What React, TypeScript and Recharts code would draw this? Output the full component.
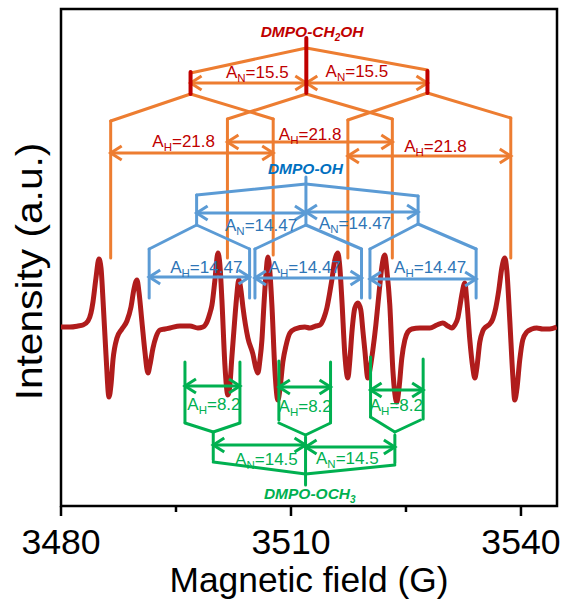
import React from "react";
import { LineChart, Line, XAxis, YAxis, ReferenceLine, ReferenceDot, ReferenceArea } from "recharts";

// spectrum: field in G, intensity in a.u.
const field = [
  3480.0, 3481.17, 3482.22, 3482.87, 3483.52, 3483.91, 3484.17, 3484.56, 3484.95, 3485.22, 3485.48, 3485.87,
  3486.26, 3486.52, 3486.78, 3487.3, 3487.95, 3488.6, 3489.13, 3489.52, 3489.91, 3490.17, 3490.56, 3490.95,
  3491.34, 3491.6, 3492.0, 3492.39, 3492.91, 3493.56, 3494.21, 3495.52, 3496.82,
  3497.86, 3498.51, 3499.04, 3499.43, 3499.69, 3500.08, 3500.47, 3500.73, 3500.99, 3501.38, 3501.77, 3502.03,
  3502.29, 3502.56, 3502.82, 3503.21, 3503.47, 3503.73, 3504.38, 3505.03, 3505.42, 3505.68, 3505.95, 3506.21,
  3506.47, 3506.73, 3506.99, 3507.25, 3507.51, 3507.9, 3508.29, 3508.55, 3508.94, 3509.34, 3509.86, 3510.51,
  3511.81, 3512.46,
  3513.25, 3513.77, 3514.29, 3514.68, 3515.07, 3515.33, 3515.72, 3516.11, 3516.38, 3516.64, 3517.03, 3517.42,
  3517.68, 3517.94, 3518.33, 3518.72, 3519.11, 3519.37, 3519.63, 3520.03, 3520.29, 3520.68, 3521.07, 3521.33,
  3521.59, 3521.85, 3522.24, 3522.5, 3522.89, 3523.29, 3523.81, 3524.07, 3524.46, 3524.85, 3525.24, 3525.76,
  3526.81, 3528.11,
  3529.02, 3529.8, 3530.46, 3530.98, 3531.37, 3531.76, 3532.02, 3532.28, 3532.67, 3532.93, 3533.33, 3533.72,
  3533.98, 3534.24, 3534.63, 3535.02, 3535.41, 3535.93, 3536.32, 3536.71, 3537.11, 3537.5, 3537.89, 3538.15,
  3538.54, 3538.93, 3539.19, 3539.45, 3539.84, 3540.23, 3540.76, 3541.41, 3542.06, 3542.84, 3543.75, 3544.67,
];
const intensity = [
  0, 0, 1, 2, 6, 14, 25, 49, 68, 59, 27, -28,
  -70, -58, -33, -11, -2, 6, 20, 38, 47, 35, 5, -25,
  -46, -38, -21, -10, -3, -2, -1, 1, 1,
  -1, 0, 5, 14, 22, 47, 74, 62, 27, -38, -68, -58,
  -30, -3, 22, 47, 37, 20, -11, -27, -41, -46, -33, -13,
  22, 52, 70, 55, 22, -43, -73, -63, -35, -19, -6, -2,
  0, -1,
  1, 2, 9, 19, 35, 47, 67, 74, 59, 27, -28, -51,
  -33, -6, 19, 24, 17, -3, -23, -51, -43, -23, 2, 22,
  42, 60, 72, 57, 22, -43, -75, -63, -31, -13, -5, -2,
  -1, -1,
  2, 4, 1, -1, 2, 9, 20, 32, 44, 27, -13, -41,
  -51, -41, -15, -4, 0, 3, 8, 19, 37, 59, 69, 57,
  7, -48, -73, -63, -33, -13, -5, -2, -1, -2, -2, 0,
];
const spectrum = field.map((b, i) => ({ b, v: intensity[i] }));

const fieldDomain = [3480, 3544.7];
const intensityDomain = [-179, 318];
const majorTicks = [3480, 3510, 3540];
const minorTicks = [3495, 3525];

// splitting-tree annotations: [field1, intensity1, field2, intensity2]
type Seg = [number, number, number, number];
type Coupling = { b: number; v: number; sub: string; value: string };

const ch2ohBars: Seg[] = [
  [3496.9, 255, 3496.9, 233],
  [3512.0, 289, 3512.0, 234],
  [3527.8, 256, 3527.8, 234],
];
const ch2ohLines: Seg[] = [
  [3496.9, 254, 3512.0, 279], [3512.0, 279, 3527.8, 257],
  [3496.9, 233, 3486.48, 206], [3496.9, 233, 3507.68, 208],
  [3512.0, 233, 3501.71, 208], [3512.0, 233, 3523.22, 208],
  [3527.8, 234, 3517.42, 207], [3527.8, 234, 3538.67, 209],
  [3486.48, 206, 3486.48, 69], [3501.71, 208, 3501.71, 69], [3507.68, 208, 3507.68, 72],
  [3517.42, 207, 3517.42, 69], [3523.22, 208, 3523.22, 69], [3538.67, 209, 3538.67, 69],
];
const ch2ohArrows: Seg[] = [
  [3496.9, 244, 3512.0, 244], [3512.0, 244, 3527.8, 244],
  [3486.48, 174, 3507.68, 174], [3501.71, 185, 3523.22, 185], [3517.42, 171, 3538.67, 171],
];
const ch2ohLabels: Coupling[] = [
  { b: 3505.6, v: 249, sub: "N", value: "15.5" },
  { b: 3518.6, v: 250, sub: "N", value: "15.5" },
  { b: 3496.0, v: 180, sub: "H", value: "21.8" },
  { b: 3512.5, v: 187, sub: "H", value: "21.8" },
  { b: 3528.85, v: 175, sub: "H", value: "21.8" },
];

const ohLines: Seg[] = [
  [3497.69, 132, 3511.95, 143], [3511.95, 143, 3526.58, 131],
  [3511.95, 150, 3511.95, 102], [3497.69, 132, 3497.69, 102], [3526.58, 131, 3526.58, 103],
  [3497.69, 102, 3491.5, 78], [3497.69, 102, 3504.6, 78],
  [3511.95, 102, 3505.3, 78], [3511.95, 102, 3519.2, 78],
  [3526.58, 103, 3520.3, 78], [3526.58, 103, 3534.15, 78],
  [3491.5, 78, 3491.5, 29], [3504.6, 78, 3504.6, 29], [3505.3, 78, 3505.3, 29],
  [3519.2, 78, 3519.2, 29], [3520.3, 78, 3520.3, 29], [3534.15, 78, 3534.15, 29],
];
const ohArrows: Seg[] = [
  [3497.69, 114, 3511.95, 114], [3511.95, 115, 3526.58, 115],
  [3491.5, 50, 3504.6, 50], [3505.3, 49, 3519.2, 49], [3520.3, 48, 3534.15, 48],
];
const ohLabels: Coupling[] = [
  { b: 3506.1, v: 96, sub: "N", value: "14.47" },
  { b: 3518.35, v: 98, sub: "N", value: "14.47" },
  { b: 3498.95, v: 54, sub: "H", value: "14.47" },
  { b: 3511.8, v: 54, sub: "H", value: "14.47" },
  { b: 3528.15, v: 54, sub: "H", value: "14.47" },
];

const ochLines: Seg[] = [
  [3496.17, -35, 3496.17, -95], [3503.34, -35, 3503.34, -95], [3508.42, -34, 3508.42, -93],
  [3515.16, -35, 3515.16, -95], [3520.38, -30, 3520.38, -90], [3527.24, -32, 3527.24, -92],
  [3496.17, -96, 3499.86, -105], [3499.86, -105, 3503.34, -96],
  [3508.42, -96, 3511.9, -108], [3511.9, -108, 3515.16, -96],
  [3520.38, -90, 3523.55, -105], [3523.55, -105, 3526.9, -93],
  [3499.86, -106, 3499.86, -133], [3511.9, -110, 3511.9, -158], [3523.55, -108, 3523.55, -136],
  [3499.86, -135, 3511.9, -147], [3511.9, -147, 3523.55, -138],
];
const ochArrows: Seg[] = [
  [3496.17, -59, 3503.34, -59], [3508.42, -60, 3515.16, -60], [3520.38, -63, 3527.24, -63],
  [3499.86, -118, 3511.9, -118], [3511.9, -120, 3523.55, -120],
];
const ochLabels: Coupling[] = [
  { b: 3499.95, v: -83, sub: "H", value: "8.2" },
  { b: 3511.85, v: -85, sub: "H", value: "8.2" },
  { b: 3523.75, v: -84, sub: "H", value: "8.2" },
  { b: 3506.8, v: -138, sub: "N", value: "14.5" },
  { b: 3517.35, v: -137, sub: "N", value: "14.5" },
];

const FONT = "'Liberation Sans', Arial, sans-serif";
const SPECTRUM = "#b01c1c";
const DARK_RED = "#c00000";
const ORANGE = "#ed7d31";
const BLUE_LINE = "#5b9bd5";
const BLUE_TEXT = "#2e75b6";
const BLUE_TITLE = "#0070c0";
const GREEN = "#00b050";

function ArrowLine(props: any) {
  const { x1, y1, x2, y2, stroke, strokeWidth } = props;
  const dx = x2 - x1;
  const dy = y2 - y1;
  const len = Math.hypot(dx, dy) || 1;
  const ux = dx / len;
  const uy = dy / len;
  const head = 11;
  const half = 7;
  const wing = (tx: number, ty: number, s: number) => {
    const bx = tx - s * ux * head;
    const by = ty - s * uy * head;
    return `${bx - uy * half},${by + ux * half} ${tx},${ty} ${bx + uy * half},${by - ux * half}`;
  };
  return (
    <g fill="none" stroke={stroke} strokeWidth={strokeWidth}>
      <line x1={x1} y1={y1} x2={x2} y2={y2} />
      <polyline points={wing(x2, y2, 1)} />
      <polyline points={wing(x1, y1, -1)} />
    </g>
  );
}

function segments(list: Seg[], color: string, width: number, key: string, arrow = false) {
  return list.map(([x1, y1, x2, y2], i) => (
    <ReferenceLine
      key={`${key}-${i}`}
      segment={[{ x: x1, y: y1 }, { x: x2, y: y2 }]}
      stroke={color}
      strokeWidth={width}
      strokeLinecap="round"
      ifOverflow="visible"
      shape={arrow ? ArrowLine : undefined}
    />
  ));
}

function couplings(list: Coupling[], color: string, key: string) {
  return list.map((c, i) => (
    <ReferenceDot
      key={`${key}-${i}`}
      x={c.b}
      y={c.v}
      r={1}
      ifOverflow="visible"
      shape={(p: any) => (
        <text x={p.cx} y={p.cy} textAnchor="middle" fill={color} fontSize={17} fontFamily={FONT}>
          A<tspan fontSize={11.5} dy={4}>{c.sub}</tspan>
          <tspan dy={-4}>={c.value}</tspan>
        </text>
      )}
    />
  ));
}

function speciesTitle(b: number, v: number, head: string, sub: string, tail: string, color: string) {
  return (
    <ReferenceDot
      x={b}
      y={v}
      r={1}
      ifOverflow="visible"
      shape={(p: any) => (
        <text
          x={p.cx}
          y={p.cy}
          textAnchor="middle"
          fill={color}
          fontSize={15.5}
          fontWeight="bold"
          fontStyle="italic"
          fontFamily={FONT}
        >
          {head}
          {sub && (
            <tspan fontSize={10} dy={4}>
              {sub}
            </tspan>
          )}
          {tail && <tspan dy={sub ? -4 : 0}>{tail}</tspan>}
        </text>
      )}
    />
  );
}

function FieldTick(props: any) {
  const { x, y, payload } = props;
  const major = majorTicks.includes(payload.value);
  return (
    <g>
      <line x1={x} x2={x} y1={y} y2={y + (major ? 10 : 6)} stroke="#000" strokeWidth={2.5} />
      {major && (
        <text
          transform={`translate(${x} ${y + 47.5}) scale(1.08 1.05)`}
          textAnchor="middle"
          fontSize={33}
          fontFamily={FONT}
          fill="#000"
        >
          {payload.value}
        </text>
      )}
    </g>
  );
}

export default function App() {
  return (
    <div style={{ position: "absolute", left: 0, top: 0, background: "#fff" }}>
      <LineChart width={563} height={599} data={spectrum} margin={{ top: 9, right: 6, bottom: 33, left: 0 }}>
        <XAxis
          type="number"
          dataKey="b"
          domain={fieldDomain}
          allowDataOverflow
          ticks={[...majorTicks, ...minorTicks].sort((a, b) => a - b)}
          interval={0}
          tick={<FieldTick />}
          tickLine={false}
          axisLine={false}
          tickSize={0}
          tickMargin={0}
          height={60}
          label={{
            content: ({ viewBox }: any) => (
              <text
                transform={`translate(${viewBox.x + viewBox.width / 2} ${viewBox.y + 86}) scale(1.04 1.02)`}
                textAnchor="middle"
                fontSize={34}
                fontFamily={FONT}
                fill="#000"
              >
                Magnetic field (G)
              </text>
            ),
          }}
        />
        <YAxis
          type="number"
          domain={intensityDomain}
          allowDataOverflow
          width={61}
          tick={false}
          tickLine={false}
          axisLine={false}
          label={{
            content: ({ viewBox }: any) => (
              <text
                transform={`translate(${viewBox.x + viewBox.width - 19.3} ${viewBox.y + viewBox.height / 2 + 14}) rotate(-90) scale(1.1 1)`}
                textAnchor="middle"
                fontSize={37}
                fontFamily={FONT}
                fill="#000"
              >
                Intensity (a.u.)
              </text>
            ),
          }}
        />
        <Line
          type="monotone"
          dataKey="v"
          stroke={SPECTRUM}
          strokeWidth={5}
          strokeLinejoin="round"
          dot={false}
          isAnimationActive={false}
        />

        {segments(ch2ohLines, ORANGE, 3, "ch2oh")}
        {segments(ch2ohArrows, ORANGE, 3, "ch2oh-arr", true)}
        {segments(ch2ohBars, DARK_RED, 4, "ch2oh-bar")}
        {couplings(ch2ohLabels, DARK_RED, "ch2oh-lab")}
        {speciesTitle(3512.75, 290, "DMPO-CH", "2", "OH", DARK_RED)}

        {segments(ohLines, BLUE_LINE, 3, "oh")}
        {segments(ohArrows, BLUE_LINE, 3, "oh-arr", true)}
        {couplings(ohLabels, BLUE_TEXT, "oh-lab")}
        {speciesTitle(3511.88, 153, "DMPO-OH", "", "", BLUE_TITLE)}

        {segments(ochLines, GREEN, 3, "och")}
        {segments(ochArrows, GREEN, 3, "och-arr", true)}
        {couplings(ochLabels, GREEN, "och-lab")}
        {speciesTitle(3512.45, -172, "DMPO-OCH", "3", "", GREEN)}

        <ReferenceArea
          x1={fieldDomain[0]}
          x2={fieldDomain[1]}
          y1={intensityDomain[0]}
          y2={intensityDomain[1]}
          fill="none"
          stroke="#000"
          strokeWidth={2.5}
          ifOverflow="visible"
        />
      </LineChart>
    </div>
  );
}
